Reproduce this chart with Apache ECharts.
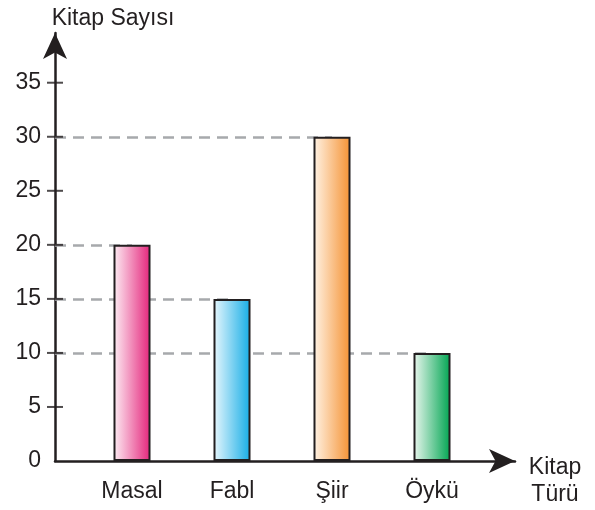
<!DOCTYPE html>
<html>
<head>
<meta charset="utf-8">
<script src="https://cdn.jsdelivr.net/npm/echarts@6/dist/echarts.min.js"></script>
<style>
  html, body { margin: 0; padding: 0; background: #fff; }
  #chart { width: 595px; height: 510px; }
</style>
</head>
<body>
<div id="chart"></div>
<script>
// data
const categories = ['Masal', 'Fabl', 'Şiir', 'Öykü']
const values = [20, 15, 30, 10]
const yTicks = [5, 10, 15, 20, 25, 30, 35]
const yLabels = [0, 5, 10, 15, 20, 25, 30, 35]
const barColors = [
  ['#fdeef4', '#e4247b'],
  ['#e8f7fd', '#15ade6'],
  ['#fff3e5', '#f59233'],
  ['#ebf7ef', '#00a551'],
]

const INK = '#231f20'
const FONT = "'Liberation Sans', Arial, sans-serif"

// x is a value axis so the bars can sit 100px apart with the y axis well left of the first bar
const X_MIN = 0.23
const X_MAX = 4.83
const Y_MAX = 39.6 // axis runs past 35 up to the arrow tip

const barData = values.map((v, i) => ({
  value: [i + 1, v],
  itemStyle: {
    color: new echarts.graphic.LinearGradient(0, 0, 1, 0, [
      { offset: 0, color: barColors[i][0] },
      { offset: 1, color: barColors[i][1] },
    ]),
  },
}))

// dashed guide from the y axis to each bar top (the bar covers the rest)
const guideLines = values.map((v, i) => [
  { coord: [X_MIN, v] },
  { coord: [i + 1, v] },
])

// ticks cross the y axis, so draw them as small flat marks sitting on the axis
const tickMarks = yTicks.map(t => [X_MIN, t])

const axisArrow = {
  show: true,
  lineStyle: { color: INK, width: 2.5 },
  symbol: ['none', 'arrow'],
  symbolSize: [18, 26],
}

const chart = echarts.init(document.getElementById('chart'), null, { renderer: 'canvas' })

chart.setOption({
  animation: false,
  backgroundColor: '#fff',
  textStyle: { fontFamily: FONT },
  title: [
    {
      text: 'Kitap Sayısı',
      left: 108, top: 2, textAlign: 'center',
      textStyle: { fontFamily: FONT, fontSize: 23, fontWeight: 'normal', color: INK },
    },
    {
      text: 'Kitap\nTürü',
      left: 550, top: 449, textAlign: 'center',
      textStyle: { fontFamily: FONT, fontSize: 23, fontWeight: 'normal', color: INK, lineHeight: 27 },
    },
  ],
  grid: { left: 55, right: 80, top: 33, bottom: 49 },
  xAxis: {
    type: 'value',
    min: X_MIN,
    max: X_MAX,
    splitLine: { show: false },
    axisTick: { show: false },
    axisLine: axisArrow,
    axisLabel: {
      customValues: categories.map((c, i) => i + 1),
      formatter: v => categories[Math.round(v) - 1] || '',
      color: INK,
      fontFamily: FONT,
      fontSize: 23,
      margin: 19,
    },
  },
  yAxis: {
    type: 'value',
    min: 0,
    max: Y_MAX,
    interval: 5,
    splitLine: { show: false },
    axisLine: axisArrow,
    axisTick: { show: false },
    axisLabel: {
      customValues: yLabels,
      color: INK,
      fontFamily: FONT,
      fontSize: 23,
      margin: 14,
    },
  },
  series: [
    {
      type: 'bar',
      z: 3,
      barWidth: 37,
      data: barData,
      itemStyle: { borderColor: INK, borderWidth: 2 },
      markLine: {
        silent: true,
        z: 1,
        symbol: 'none',
        label: { show: false },
        lineStyle: { color: '#a7a9ac', width: 2.5, type: [11, 7] },
        data: guideLines,
      },
    },
    {
      type: 'scatter',
      z: 4,
      silent: true,
      clip: false,
      symbol: 'rect',
      symbolSize: [16, 2],
      itemStyle: { color: INK },
      data: tickMarks,
    },
  ],
})
</script>
</body>
</html>
